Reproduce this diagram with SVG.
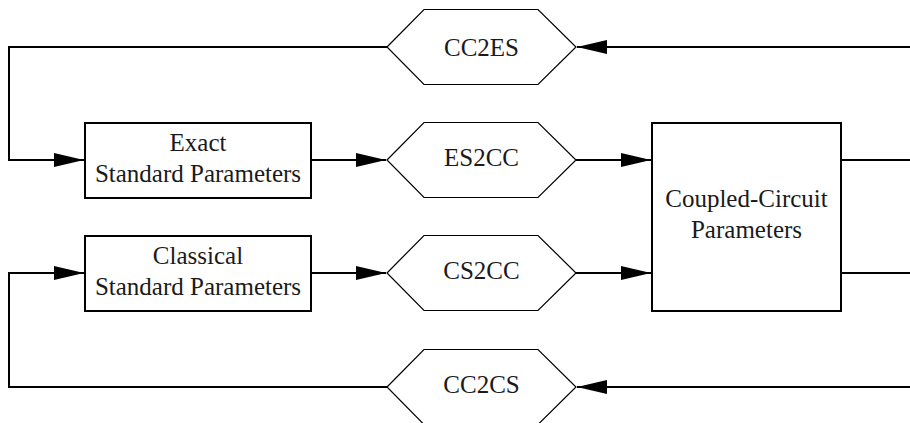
<svg xmlns="http://www.w3.org/2000/svg" width="910" height="423" viewBox="0 0 910 423">
<style>
.box{fill:#fff;stroke:#000;stroke-width:2}
.hex{fill:#fff;stroke:#000;stroke-width:1.2}
.lbl{font-family:'Liberation Serif','DejaVu Serif',serif;font-size:25px;fill:#1a1a1a;text-anchor:middle}
.conn{fill:none;stroke:#000;stroke-width:2}
</style>
<defs>
<marker id="arr" markerUnits="userSpaceOnUse" markerWidth="30" markerHeight="14" refX="30" refY="7" orient="auto">
<path d="M0,0 L30,7 L0,14 z" fill="#000"/>
</marker>
</defs>
<rect width="910" height="423" fill="#fff"/>
<g id="connectors">
<path class="conn" d="M910,47 H577" marker-end="url(#arr)"/>
<path class="conn" d="M387,47 H9 V160 H84" marker-end="url(#arr)"/>
<path class="conn" d="M311,160 H386" marker-end="url(#arr)"/>
<path class="conn" d="M576,160 H651" marker-end="url(#arr)"/>
<path class="conn" d="M841,160 H910"/>
<path class="conn" d="M311,273 H386" marker-end="url(#arr)"/>
<path class="conn" d="M576,273 H651" marker-end="url(#arr)"/>
<path class="conn" d="M841,273 H910"/>
<path class="conn" d="M910,387 H577" marker-end="url(#arr)"/>
<path class="conn" d="M387,387 H9 V273 H84" marker-end="url(#arr)"/>
</g>
<g id="cc2es">
<polygon class="hex" points="387,47 424,9.5 538,9.5 576,47 538,84.5 424,84.5"/>
<text class="lbl" font-family="Liberation Serif, serif" x="481.5" y="56">CC2ES</text>
</g>
<g id="es2cc">
<polygon class="hex" points="387,160 424,122.5 538,122.5 576,160 538,197.5 424,197.5"/>
<text class="lbl" font-family="Liberation Serif, serif" x="481.5" y="166">ES2CC</text>
</g>
<g id="cs2cc">
<polygon class="hex" points="387,273 424,235.5 538,235.5 576,273 538,310.5 424,310.5"/>
<text class="lbl" font-family="Liberation Serif, serif" x="481.5" y="279">CS2CC</text>
</g>
<g id="cc2cs">
<polygon class="hex" points="387,387 424,349.5 538,349.5 576,387 538,424.5 424,424.5"/>
<text class="lbl" font-family="Liberation Serif, serif" x="481.5" y="393">CC2CS</text>
</g>
<g id="exact">
<rect class="box" x="85" y="123" width="226" height="75"/>
<text class="lbl" font-family="Liberation Serif, serif" x="198" y="151">Exact</text>
<text class="lbl" font-family="Liberation Serif, serif" x="198" y="182">Standard Parameters</text>
</g>
<g id="classical">
<rect class="box" x="85" y="236" width="226" height="75"/>
<text class="lbl" font-family="Liberation Serif, serif" x="198" y="264">Classical</text>
<text class="lbl" font-family="Liberation Serif, serif" x="198" y="295">Standard Parameters</text>
</g>
<g id="coupled">
<rect class="box" x="652" y="123" width="189" height="188"/>
<text class="lbl" font-family="Liberation Serif, serif" x="746.5" y="207">Coupled-Circuit</text>
<text class="lbl" font-family="Liberation Serif, serif" x="746.5" y="238">Parameters</text>
</g>
</svg>
